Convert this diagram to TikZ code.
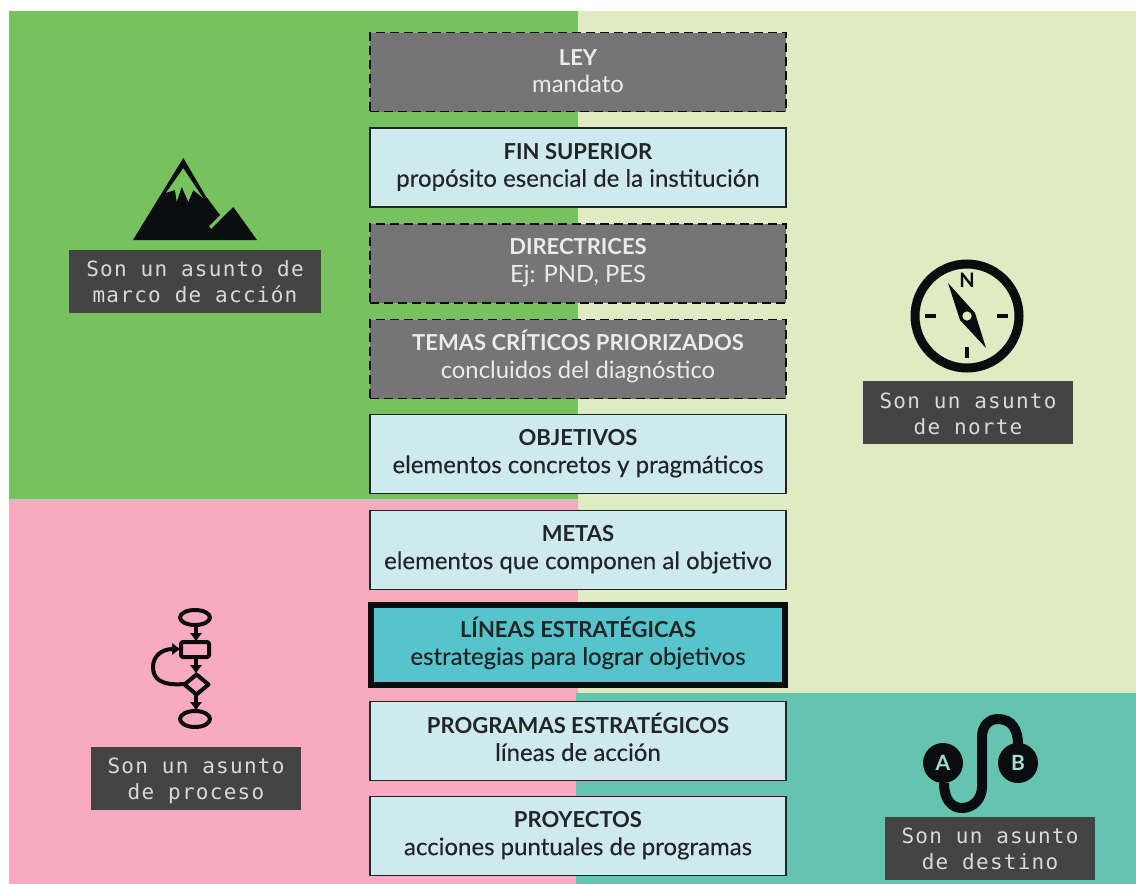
\documentclass[tikz,border=0pt]{standalone}
\usepackage{fontspec}
\setmainfont{Lato}
\newfontfamily\monof[LetterSpace=6]{DejaVu Sans Mono}
\newfontfamily\subbold[FakeBold=0.25]{Lato}
\usetikzlibrary{arrows.meta}
\definecolor{cgreen}{HTML}{76C25F}
\definecolor{clight}{HTML}{DFEBC3}
\definecolor{cpink}{HTML}{F8AABF}
\definecolor{cteal}{HTML}{65C4B0}
\definecolor{cbox}{HTML}{CEEAEF}
\definecolor{cgray}{HTML}{757575}
\definecolor{ccyan}{HTML}{57C4CB}
\definecolor{cdark}{HTML}{444444}
\definecolor{cink}{HTML}{0A0C0E}
\newcommand{\ttl}[1]{{\bfseries\fontsize{22}{27.5}\selectfont #1}}
\newcommand{\sublight}[1]{{\fontsize{23.8}{27.5}\selectfont #1}}
\newcommand{\subdark}[1]{{\subbold\fontsize{24}{27.5}\selectfont #1}}
\tikzset{
  basebox/.style={minimum width=416pt,minimum height=79pt,inner sep=0pt},
  lightbox/.style={basebox,draw=cink!90,line width=1.4pt,fill=cbox},
  graybox/.style={basebox,draw=cink,dash pattern=on 9pt off 5pt,line width=1.4pt,fill=cgray},
  keybox/.style={basebox,draw=cink,line width=6pt,fill=ccyan,minimum width=414pt,minimum height=80pt},
  boxtext/.style={inner sep=0pt,align=center,text=cink!90,font=\fontsize{22}{27.5}\selectfont},
  boxtextw/.style={boxtext,text=white!92!black},
  tag/.style={fill=cdark,inner sep=0pt,minimum height=63pt},
  tagtext/.style={inner sep=0pt,align=center,text=white!85!black,font=\monof\fontsize{21}{26}\selectfont},
  ink/.style={draw=cink,line width=4pt,line join=round},
  flowarrow/.style={draw=cink,line width=4pt,-{Latex[length=9pt,width=13pt]}},
  letter/.style={font=\bfseries\fontsize{21}{21}\selectfont,inner sep=0pt}
}
\begin{document}
\begin{tikzpicture}[x=1pt,y=-1pt]
\useasboundingbox (0,0) rectangle (1136,884);
\fill[white] (0,0) rectangle (1136,884);
% background quadrants
\fill[cgreen] (9,11) rectangle (578,499);
\fill[clight] (578,11) rectangle (1136,693);
\fill[cpink] (9,499) rectangle (578,884);
\fill[cteal] (576,693) rectangle (1136,884);
% central boxes
\node[graybox] (ley) at (578,72) {};
\node[boxtextw] (leyt) at (578,71) {\ttl{LEY}\\\sublight{mandato}};
\node[lightbox] (fin) at (578,167.5) {};
\node[boxtext] (fint) at (578,167) {\ttl{FIN SUPERIOR}\\\subdark{propósito esencial de la institución}};
\node[graybox] (dir) at (578,263.5) {};
\node[boxtextw] (dirt) at (578,262.5) {\ttl{DIRECTRICES}\\\sublight{Ej: PND, PES}};
\node[graybox] (tem) at (578,359) {};
\node[boxtextw] (temt) at (578,356.5) {\ttl{TEMAS CRÍTICOS PRIORIZADOS}\\\sublight{concluidos del diagnóstico}};
\node[lightbox] (obj) at (578,454) {};
\node[boxtext] (objt) at (578,453.5) {\ttl{OBJETIVOS}\\\subdark{elementos concretos y pragmáticos}};
\node[lightbox] (met) at (578,550) {};
\node[boxtext] (mett) at (578,549.5) {\ttl{METAS}\\\subdark{elementos que componen al objetivo}};
\node[keybox] (lin) at (578,645) {};
\node[boxtext] (lint) at (578,643) {\ttl{LÍNEAS ESTRATÉGICAS}\\\subdark{estrategias para lograr objetivos}};
\node[lightbox] (pro) at (578,741) {};
\node[boxtext] (prot) at (578,737) {\ttl{PROGRAMAS ESTRATÉGICOS}\\\subdark{líneas de acción}};
\node[lightbox] (pry) at (578,836) {};
\node[boxtext] (pryt) at (578,835.5) {\ttl{PROYECTOS}\\\subdark{acciones puntuales de programas}};
% tags
\node[tag,minimum width=252pt] (t1) at (195,281.5) {};
\node[tagtext] (t1t) at (195,281.5) {Son un asunto de\\marco de acción};
\node[tag,minimum width=210pt] (t2) at (968,412.5) {};
\node[tagtext] (t2t) at (968,414) {Son un asunto\\de norte};
\node[tag,minimum width=210pt] (t3) at (196,778.5) {};
\node[tagtext] (t3t) at (196,781) {Son un asunto\\de proceso};
\node[tag,minimum width=210pt] (t4) at (990,848) {};
\node[tagtext] (t4t) at (990,849) {Son un asunto\\de destino};
% mountain
\fill[cink] (183.3,158) -- (133,240) -- (257,240) -- (233.3,207) -- (211,229) -- (209,226) -- (220,215) -- (205,195) -- cycle;
\fill[cgreen] (183.3,168.3) -- (166,192.7) -- (175,190) -- (176.7,201.7) -- (181.7,186.7) -- (188.3,201.7) -- (193.3,190) -- (203,198) -- cycle;
% compass
\draw[cink,line width=9pt] (967,316) circle (52pt);
\node[font=\bfseries\fontsize{20}{20}\selectfont,text=cink,inner sep=0pt] (cn) at (967,280) {N};
\fill[cink] (948,283) -- (975,313) -- (986,348) -- (960,320) -- cycle;
\fill[clight] (967,316) circle (4.6pt);
\draw[cink,line width=3.5pt] (925,316) -- (936,316) (997,316) -- (1008,316) (967,347) -- (967,358);
% flowchart
\draw[ink] (195,617.5) ellipse (15pt and 7.5pt);
\draw[ink,rounded corners=1.5pt] (181,642) rectangle (209,657);
\draw[ink] (196.5,674.5) -- (208.5,684.5) -- (196.5,694.5) -- (184.5,684.5) -- cycle;
\draw[ink] (195,719) ellipse (15pt and 8pt);
\draw[flowarrow] (196,625) -- (196,642);
\draw[flowarrow] (196,657) -- (196,674);
\draw[flowarrow] (196,695) -- (196,711);
\draw[flowarrow] (184,684) .. controls (160,686) and (153,678) .. (153,667) .. controls (153,656) and (162,649) .. (181,649);
% route A to B
\draw[cink,line width=10pt] (944,783) .. controls (944,800) and (952,808) .. (962,808) .. controls (974,808) and (982,798) .. (982,787) -- (982,737) .. controls (982,727) and (988,719) .. (998,719) .. controls (1012,719) and (1018,730) .. (1018,744);
\fill[cink] (943,763) circle (20pt) (1018,763) circle (20pt);
\node[letter,text=cteal!60!white] (na) at (943,763) {A};
\node[letter,text=cteal!60!white] (nb) at (1018,763) {B};
\end{tikzpicture}
\end{document}
